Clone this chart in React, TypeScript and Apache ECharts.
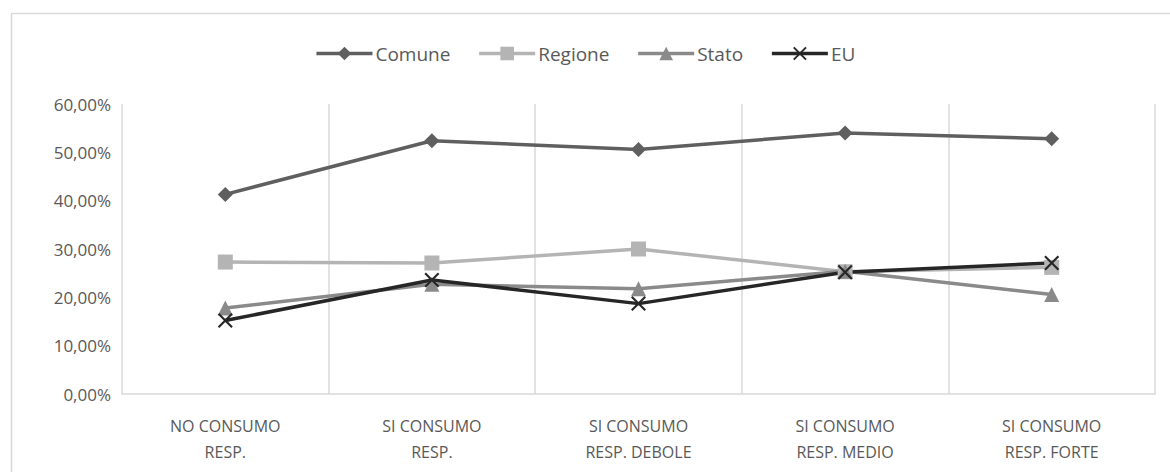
import React, { useEffect, useRef } from "react";
import * as echarts from "echarts";

const categories = [
  "NO CONSUMO\nRESP.",
  "SI CONSUMO\nRESP.",
  "SI CONSUMO\nRESP. DEBOLE",
  "SI CONSUMO\nRESP. MEDIO",
  "SI CONSUMO\nRESP. FORTE",
];
const comune = [41.3, 52.4, 50.6, 54.0, 52.8];
const regione = [27.3, 27.1, 30.0, 25.3, 26.2];
const stato = [17.8, 22.7, 21.8, 25.4, 20.6];
const eu = [15.2, 23.6, 18.7, 25.2, 27.1];
const yTicks = { min: 0, max: 60, interval: 10 };

const FONT = "'Open Sans', 'DejaVu Sans', sans-serif";
const X_PATH =
  "path://M0,1 L1,0 L5,4 L9,0 L10,1 L6,5 L10,9 L9,10 L5,6 L1,10 L0,9 L4,5 Z";

export default function App() {
  const ref = useRef<HTMLDivElement>(null);
  useEffect(() => {
    if (!ref.current) return;
    const chart = echarts.init(ref.current, undefined, { renderer: "svg" });
    const mk = (
      name: string,
      data: number[],
      color: string,
      symbol: string,
      size: number
    ) => ({
      name,
      type: "line",
      data,
      symbol,
      symbolSize: size,
      lineStyle: { color, width: 3.5 },
      itemStyle: { color },
      z: 2,
    });
    chart.setOption({
      animation: false,
      graphic: [
        {
          type: "rect",
          shape: { x: 11.5, y: 13.5, width: 1200, height: 500 },
          style: { fill: "none", stroke: "#d9d9d9", lineWidth: 1.5 },
          silent: true,
        },
      ],
      legend: {
        top: 39,
        left: "center",
        itemWidth: 56,
        itemHeight: 17,
        itemGap: 27,
        lineStyle: { width: 3.5 },
        textStyle: {
          fontFamily: FONT,
          fontSize: 19,
          color: "#595959",
          padding: [0, 0, 0, -2],
        },
        data: ["Comune", "Regione", "Stato", "EU"],
      },
      grid: { left: 122, right: 15, top: 104, bottom: 78 },
      xAxis: {
        type: "category",
        data: categories,
        boundaryGap: true,
        axisLine: { lineStyle: { color: "#d9d9d9", width: 1.5 } },
        axisTick: { show: false },
        splitLine: { show: true, lineStyle: { color: "#d9d9d9", width: 1.5 } },
        axisLabel: {
          fontFamily: FONT,
          fontSize: 16,
          color: "#595959",
          margin: 19,
          lineHeight: 26,
          interval: 0,
        },
      },
      yAxis: {
        type: "value",
        min: yTicks.min,
        max: yTicks.max,
        interval: yTicks.interval,
        axisLine: { show: false },
        axisTick: { show: false },
        splitLine: { show: false },
        axisLabel: {
          fontFamily: FONT,
          fontSize: 17,
          color: "#595959",
          margin: 11,
          formatter: (v: number) => v.toFixed(2).replace(".", ",") + "%",
        },
      },
      series: [
        mk("Comune", comune, "#5f5f5f", "diamond", 15),
        mk("Regione", regione, "#b4b4b4", "rect", 15),
        mk("Stato", stato, "#8a8a8a", "triangle", 15),
        mk("EU", eu, "#262626", X_PATH, 15),
      ],
    });
    return () => chart.dispose();
  }, []);
  return (
    <div
      style={{
        position: "fixed",
        left: 0,
        top: 0,
        width: 1170,
        height: 472,
        overflow: "hidden",
        background: "#fff",
      }}
    >
      <div ref={ref} style={{ width: 1170, height: 472 }} />
    </div>
  );
}
